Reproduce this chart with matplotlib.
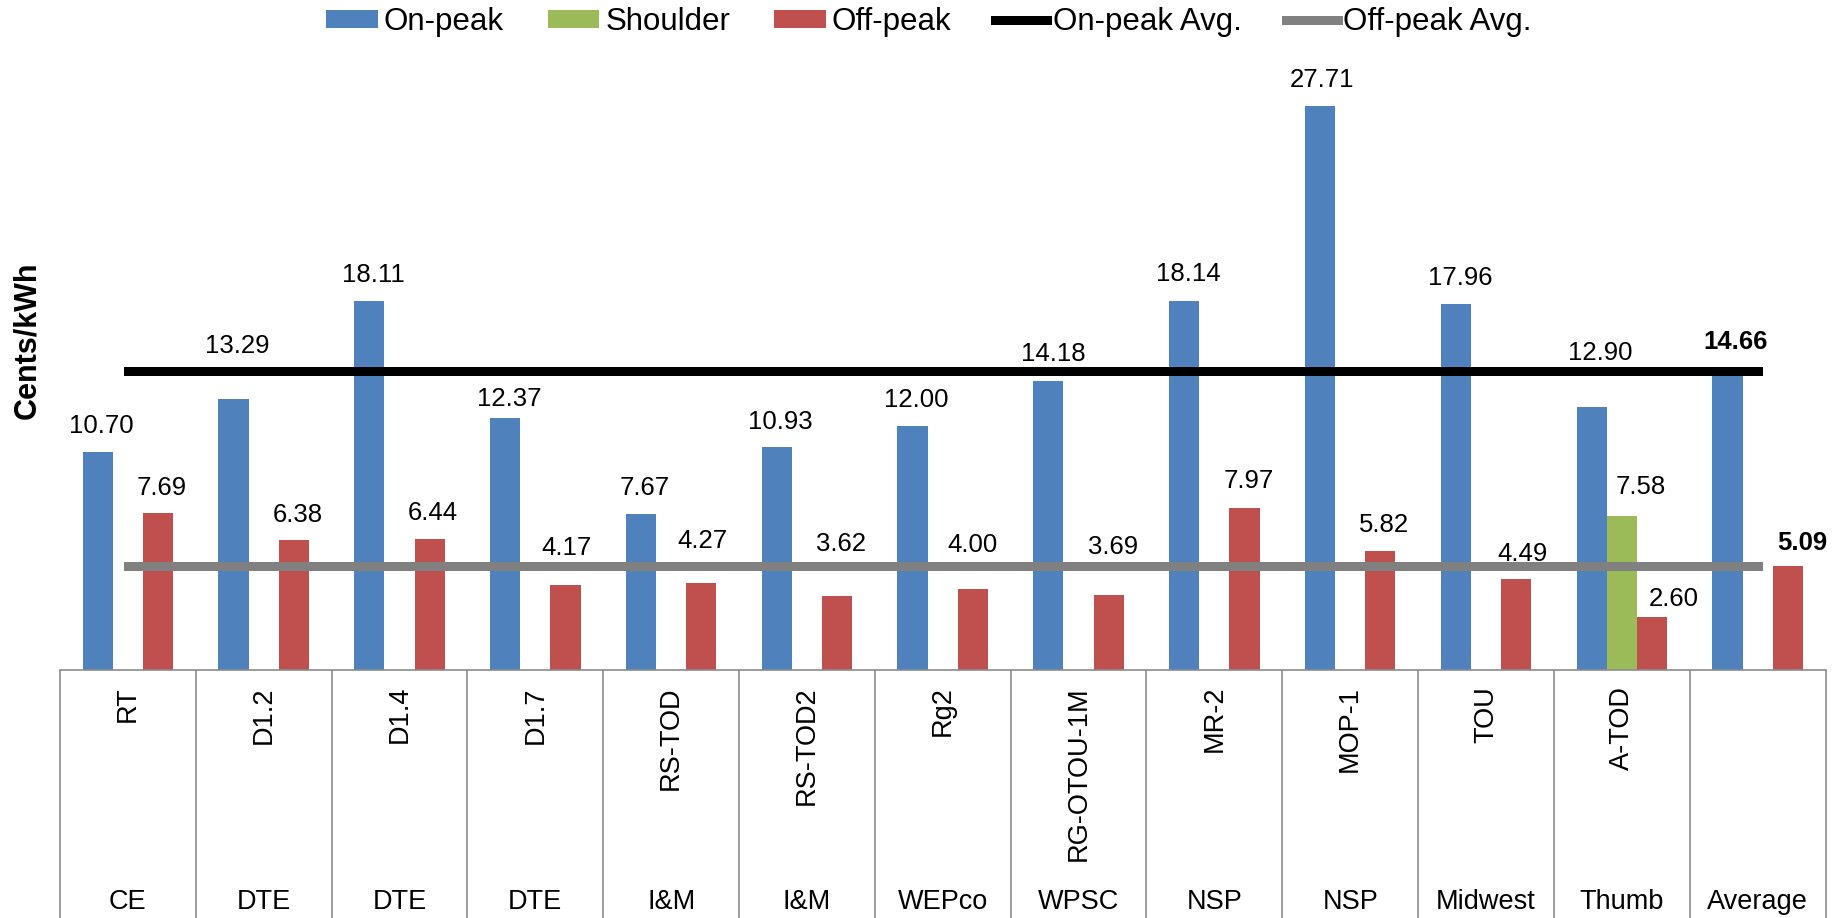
import numpy as np
import matplotlib
matplotlib.use("Agg")
import matplotlib.pyplot as plt
from matplotlib.patches import Patch
from matplotlib.lines import Line2D
import matplotlib.transforms as mtransforms

plt.rcParams['font.family'] = ['Liberation Sans', 'DejaVu Sans']

# ---------------- data ----------------
utilities = ["CE", "DTE", "DTE", "DTE", "I&M", "I&M", "WEPco", "WPSC", "NSP", "NSP",
             "Midwest", "Thumb", "Average"]
rates = ["RT", "D1.2", "D1.4", "D1.7", "RS-TOD", "RS-TOD2", "Rg2", "RG-OTOU-1M",
         "MR-2", "MOP-1", "TOU", "A-TOD", ""]
on_peak = [10.70, 13.29, 18.11, 12.37, 7.67, 10.93, 12.00, 14.18, 18.14, 27.71,
           17.96, 12.90, 14.66]
shoulder = [None, None, None, None, None, None, None, None, None, None,
            None, 7.58, None]
off_peak = [7.69, 6.38, 6.44, 4.17, 4.27, 3.62, 4.00, 3.69, 7.97, 5.82,
            4.49, 2.60, 5.09]
on_peak_avg = [14.66] * 13
off_peak_avg = [5.09] * 13

# label offsets (pixels) of the label centre from the bar top centre
on_lbl_off = [(4, 28), (4, 56), (4, 28), (4, 21), (4, 28), (4, 28), (4, 28),
              (5, 29), (4, 28.5), (2.5, 28), (4, 28), (8.5, 56), (8, 32)]
sh_lbl_off = [None] * 11 + [(18.5, 31), None]
off_lbl_off = [(3.3, 28), (3.6, 27.5), (3, 28), (0.5, 39), (0.7, 44), (3.5, 54),
               (0, 46), (4, 50), (4, 28.5), (3.7, 28.4), (6, 27), (22, 20), (14, 25.5)]

# ---------------- style ----------------
C_ON = "#4F81BD"
C_SH = "#9BBB59"
C_OFF = "#C0504D"
C_GRID = "#8C8C8C"

W, H, DPI = 1835, 918, 100
fig = plt.figure(figsize=(W / DPI, H / DPI), dpi=DPI)
ax_left, ax_right = 60, 1825.5
ax_bot, ax_top = 670, 59
ax = fig.add_axes([ax_left / W, 1 - ax_bot / H, (ax_right - ax_left) / W, (ax_bot - ax_top) / H])

n = len(utilities)
x = np.arange(n)
bw = 1 / 4.5

ax.bar(x - bw, on_peak, bw, color=C_ON, zorder=2)
sh_x = [xi for xi, v in zip(x, shoulder) if v is not None]
sh_v = [v for v in shoulder if v is not None]
ax.bar(sh_x, sh_v, bw, color=C_SH, zorder=2)
ax.bar(x + bw, off_peak, bw, color=C_OFF, zorder=2)

lw = 9 * 0.72
ax.plot(x, on_peak_avg, color="black", lw=lw, solid_capstyle="projecting", zorder=4)
ax.plot(x, off_peak_avg, color="#808080", lw=lw, solid_capstyle="projecting", zorder=4)

ax.set_xlim(-0.5, n - 0.5)
ax.set_ylim(0, 30)
for s in ["left", "right", "top"]:
    ax.spines[s].set_visible(False)
ax.spines["bottom"].set_color(C_GRID)
ax.spines["bottom"].set_linewidth(1.2)
ax.set_xticks([])
ax.set_yticks([])

LBL_FS = 18.5
half_cap = LBL_FS * DPI / 72 * 0.716 / 2


def add_label(xc, val, off, bold=False):
    if off is None:
        return
    dx, dy = off
    ax.annotate(f"{val:.2f}", xy=(xc, val), xytext=(dx, dy - half_cap),
                textcoords="offset pixels", ha="center", va="baseline",
                fontsize=LBL_FS, fontweight="bold" if bold else "normal",
                color="black", zorder=3, annotation_clip=False)


for i in range(n):
    last = (i == n - 1)
    add_label(x[i] - bw, on_peak[i], on_lbl_off[i], bold=last)
    if shoulder[i] is not None:
        add_label(x[i], shoulder[i], sh_lbl_off[i])
    add_label(x[i] + bw, off_peak[i], off_lbl_off[i], bold=last)

# ---------------- category table ----------------
trans = mtransforms.blended_transform_factory(ax.transData, fig.transFigure)
bot_frac = 1 - ax_bot / H
bounds = np.arange(n + 1) - 0.5
ax.vlines(bounds, 0, bot_frac, transform=trans, colors=C_GRID, lw=1.2, clip_on=False)

for i in range(n):
    if rates[i]:
        ax.text(x[i], 1 - 686 / H, rates[i], transform=trans, rotation=90,
                ha="center", va="top", fontsize=19.5, color="black")
    ax.text(x[i], 1 - 909 / H, utilities[i], transform=trans, ha="center",
            va="baseline", fontsize=19.5, color="black")

# ---------------- y label ----------------
fig.text(27 / W, 1 - 340 / H, "Cents/kWh", rotation=90, ha="center", va="center",
         fontsize=22, fontweight="bold")

# ---------------- legend ----------------
handles = [Patch(facecolor=C_ON), Patch(facecolor=C_SH), Patch(facecolor=C_OFF),
           Line2D([], [], color="black", lw=lw), Line2D([], [], color="#808080", lw=lw)]
labels = ["On-peak", "Shoulder", "Off-peak", "On-peak Avg.", "Off-peak Avg."]
fig.legend(handles, labels, loc="center", bbox_to_anchor=(929 / W, 1 - 22 / H),
           ncol=5, frameon=False, fontsize=22.5, handlelength=1.66, handleheight=0.54,
           handletextpad=0.19, columnspacing=1.4, borderpad=0, borderaxespad=0)

fig.savefig("out.png", dpi=DPI)
